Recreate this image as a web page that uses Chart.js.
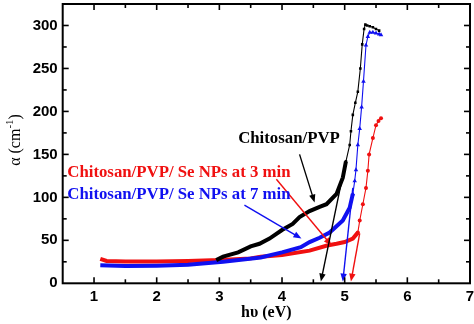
<!DOCTYPE html>
<html><head><meta charset="utf-8">
<script src="https://cdn.jsdelivr.net/npm/chart.js@4/dist/chart.umd.min.js"></script>
<style>html,body{margin:0;padding:0;background:#fff;}</style>
</head><body>
<canvas id="c" width="474" height="324"></canvas>
<script>
// ---- data (photon energy hν in eV, absorption coefficient α in cm^-1) ----
const pvpX = [2.95, 3.06, 3.3, 3.5, 3.64, 3.8, 4.0, 4.17, 4.28, 4.44, 4.6, 4.71, 4.87, 4.97, 5.02, 5.08, 5.1, 5.13, 5.17, 5.21, 5.25, 5.28, 5.31, 5.33, 5.36, 5.4, 5.45, 5.5, 5.55];
const pvpY = [27, 31, 36, 43, 46, 52, 62, 69, 77, 84, 89, 92, 104, 123, 142, 161, 177, 196, 210, 223, 250, 278, 296, 301, 300, 299, 298, 296, 294];

const se7X = [1.1, 1.5, 2.0, 2.5, 3.06, 3.66, 4.0, 4.3, 4.44, 4.6, 4.76, 4.97, 5.08, 5.13, 5.16, 5.18, 5.21, 5.24, 5.27, 5.3, 5.34, 5.37, 5.4, 5.45, 5.5, 5.55, 5.58];
const se7Y = [21, 20, 20.5, 21.5, 25, 30, 36, 42, 48, 53, 59, 73, 88, 104, 119, 132, 161, 180, 205, 235, 277, 287, 292, 292, 291, 290, 289];

const se3X = [1.1, 1.2, 1.5, 2.0, 2.5, 3.0, 3.5, 3.66, 4.0, 4.44, 4.72, 4.87, 5.0, 5.13, 5.21, 5.24, 5.29, 5.34, 5.37, 5.39, 5.45, 5.5, 5.54, 5.58];
const se3Y = [28.5, 26, 25.5, 25.5, 26, 27, 29, 31, 33, 38, 44, 46, 48, 52, 59, 73, 92, 111, 131, 150, 169, 184, 189, 192];

const xTicks = [1, 2, 3, 4, 5, 6, 7];
const yTicks = [0, 50, 100, 150, 200, 250, 300];

const seriesNames = ["Chitosan/PVP", "Chitosan/PVP/ Se NPs at 3 min", "Chitosan/PVP/ Se NPs at 7 min"];

// annotation anchors (data units)
const labelAnchors = [[3.30, 163], [0.573, 123.7], [0.573, 98.6]];
const arrows = [
  {from: [4.28, 150], to: [4.52, 94], color: '#000'},
  {from: [3.91, 121], to: [4.79, 44], color: '#f01010'},
  {from: [3.40, 91], to: [4.31, 52], color: '#1010f0'},
  {from: [4.96, 122], to: [4.62, 2], color: '#000'},
  {from: [5.13, 111], to: [4.97, 2], color: '#1010f0'},
  {from: [5.24, 58], to: [5.10, 2], color: '#f01010'}
];

const toXY = (xs, ys) => xs.map((v, i) => ({x: v, y: ys[i]}));

function makeSet(label, xs, ys, color, style, knee, r) {
  return {
    label, data: toXY(xs, ys), borderColor: color, backgroundColor: color,
    pointStyle: style, tension: 0, fill: false,
    pointBorderWidth: 0,
    pointRadius: c => (c.parsed && c.parsed.x >= knee) ? r : 0,
    segment: { borderWidth: c => c.p0.parsed.x < knee - 0.001 ? 4 : 1.1 }
  };
}

const frame = {
  id: 'frame',
  afterDatasetsDraw(chart) {
    const {ctx, scales: {x, y}} = chart;
    ctx.save();
    arrows.forEach(ar => {
      const x0 = x.getPixelForValue(ar.from[0]), y0 = y.getPixelForValue(ar.from[1]);
      const x1 = x.getPixelForValue(ar.to[0]), y1 = y.getPixelForValue(ar.to[1]);
      const ang = Math.atan2(y1 - y0, x1 - x0);
      const hl = 8, hw = 3.2;
      ctx.strokeStyle = ar.color; ctx.fillStyle = ar.color; ctx.lineWidth = 1.4;
      ctx.beginPath(); ctx.moveTo(x0, y0);
      ctx.lineTo(x1 - Math.cos(ang) * hl * 0.8, y1 - Math.sin(ang) * hl * 0.8); ctx.stroke();
      ctx.beginPath();
      ctx.moveTo(x1, y1);
      ctx.lineTo(x1 - Math.cos(ang) * hl - Math.sin(ang) * hw, y1 - Math.sin(ang) * hl + Math.cos(ang) * hw);
      ctx.lineTo(x1 - Math.cos(ang) * hl + Math.sin(ang) * hw, y1 - Math.sin(ang) * hl - Math.cos(ang) * hw);
      ctx.closePath(); ctx.fill();
    });
    const cols = ['#000', '#f01010', '#1010f0'];
    ctx.font = 'bold 16.8px "Liberation Serif", "Times New Roman", serif';
    ctx.textBaseline = 'alphabetic'; ctx.textAlign = 'left';
    seriesNames.forEach((t, i) => {
      ctx.fillStyle = cols[i];
      ctx.fillText(t, x.getPixelForValue(labelAnchors[i][0]), y.getPixelForValue(labelAnchors[i][1]));
    });
    ctx.restore();
  },
  afterDraw(chart) {
    const {ctx, chartArea: a, scales: {x, y}} = chart;
    ctx.save();
    ctx.strokeStyle = '#000';
    ctx.lineWidth = 2;
    ctx.strokeRect(a.left, a.top, a.right - a.left, a.bottom - a.top);
    ctx.lineWidth = 1.6;
    const seg = (x0, y0, x1, y1) => { ctx.beginPath(); ctx.moveTo(x0, y0); ctx.lineTo(x1, y1); ctx.stroke(); };
    for (let k = 1; k < 13; k++) {
      const v = 0.5 + k * 0.5; const px = x.getPixelForValue(v);
      const L = Number.isInteger(v) ? 6 : 4;
      seg(px, a.bottom, px, a.bottom - L); seg(px, a.top, px, a.top + L);
    }
    for (let k = 1; k < 13; k++) {
      const v = k * 25; const py = y.getPixelForValue(v);
      const L = (v % 50 === 0) ? 6 : 4;
      seg(a.left, py, a.left + L, py); seg(a.right, py, a.right - L, py);
    }
    ctx.fillStyle = '#000';
    ctx.font = 'bold 16px "Liberation Serif", "Times New Roman", serif';
    ctx.textAlign = 'center'; ctx.textBaseline = 'middle';
    ctx.fillText('hυ (eV)', (a.left + a.right) / 2, 313);
    ctx.translate(16, 140);
    ctx.rotate(-Math.PI / 2);
    ctx.textAlign = 'left'; ctx.textBaseline = 'middle';
    const f1 = '16px "Liberation Serif", "Times New Roman", serif';
    const f2 = '11px "Liberation Serif", "Times New Roman", serif';
    ctx.font = f1; const w1 = ctx.measureText('α (cm').width;
    ctx.font = f2; const w2 = ctx.measureText('-1').width;
    ctx.font = f1; const w3 = ctx.measureText(')').width;
    let sx = -(w1 + w2 + w3) / 2;
    ctx.font = f1; ctx.fillText('α (cm', sx, 0); sx += w1;
    ctx.font = f2; ctx.fillText('-1', sx, -6); sx += w2;
    ctx.font = f1; ctx.fillText(')', sx, 0);
    ctx.restore();
  }
};

const tickFont = {family: '"Liberation Sans", Arial, sans-serif', weight: 'bold', size: 15};

new Chart(document.getElementById('c'), {
  type: 'line',
  data: {
    datasets: [
      makeSet(seriesNames[0], pvpX, pvpY, '#000000', 'rect', 4.98, 1.8),
      makeSet(seriesNames[2], se7X, se7Y, '#1010f0', 'triangle', 5.1, 2.6),
      makeSet(seriesNames[1], se3X, se3Y, '#f01010', 'circle', 5.2, 2.0)
    ]
  },
  options: {
    responsive: false, animation: false,
    layout: {padding: {top: 1, right: 3.3, left: 0, bottom: 0}},
    plugins: {legend: {display: false}, tooltip: {enabled: false}},
    scales: {
      x: {
        type: 'linear', min: 0.5, max: 7,
        afterBuildTicks: s => { s.ticks = xTicks.map(v => ({value: v})); },
        afterFit: s => { s.height = 40.7; s.paddingLeft = 0; s.paddingRight = 0; },
        grid: {display: false, drawTicks: false},
        border: {display: false},
        ticks: {font: tickFont, color: '#000', padding: 5, maxRotation: 0}
      },
      y: {
        type: 'linear', min: 0, max: 325,
        afterBuildTicks: s => { s.ticks = yTicks.map(v => ({value: v})); },
        afterFit: s => { s.width = 62.7; s.paddingTop = 0; s.paddingBottom = 0; },
        grid: {display: false, drawTicks: false},
        border: {display: false},
        ticks: {font: tickFont, color: '#000', padding: 5}
      }
    }
  },
  plugins: [frame]
});
</script>
</body></html>
